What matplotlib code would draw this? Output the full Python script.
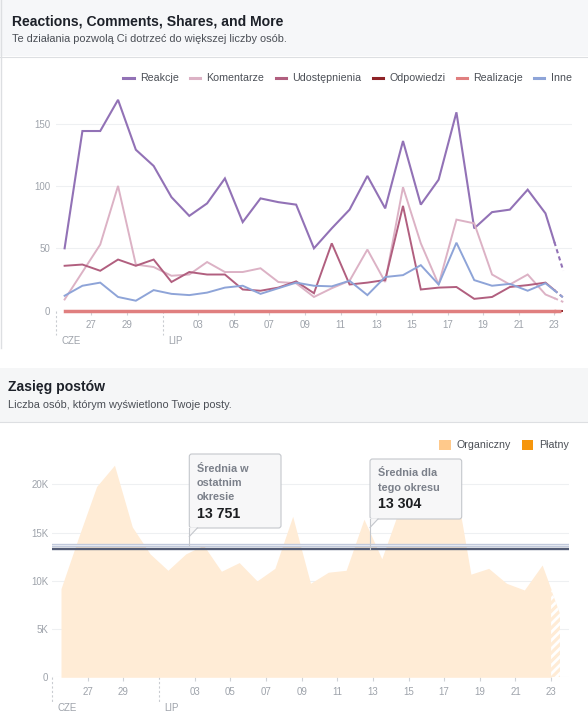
import numpy as np
import pandas as pd
import matplotlib
matplotlib.use("Agg")
import matplotlib.pyplot as plt
from matplotlib.patches import Rectangle, FancyBboxPatch, Polygon, Patch
from matplotlib.lines import Line2D
from matplotlib.transforms import IdentityTransform

plt.rcParams['font.family'] = ['Liberation Sans', 'DejaVu Sans']
plt.rcParams['hatch.linewidth'] = 2.0

W, H = 588, 715

# ---------------- data ----------------
dates = pd.date_range('2018-06-25', '2018-07-23')          # 29 days
tick_labels = ['27', '29', '03', '05', '07', '09', '11', '13', '15', '17', '19', '21', '23']
month_labels = ['CZE', 'LIP']

series_names = ['Reakcje', 'Komentarze', 'Udostępnienia', 'Odpowiedzi', 'Realizacje', 'Inne']
reakcje = [50, 144, 144, 169, 129, 116, 91, 76, 86, 106, 71, 90, 87, 85, 50, 66, 81, 108,
           82, 136, 85, 105, 159, 66, 79, 81, 97, 78, 32]
komentarze = [9, 31, 53, 100, 37, 35, 28, 29, 39, 31, 31, 34, 23, 22, 11, 18, 24, 49,
              23, 99, 54, 21, 73, 70, 29, 21, 29, 13, 7]
udostepnienia = [36, 37, 32, 41, 36, 41, 23, 31, 29, 29, 17, 16, 18.5, 23.5, 14, 54, 21, 22.5,
                 24.6, 84, 17, 18.5, 19, 9.5, 11, 19, 20.5, 22.5, 10.5]
odpowiedzi = [0] * 29
realizacje = [0] * 29
inne = [12, 20, 22.5, 11, 8, 16.5, 13.5, 12.5, 14.5, 18.5, 20, 13.5, 18, 22.5, 20, 19.5, 24, 12.5,
        27, 28.5, 36.5, 21, 54.5, 24.5, 20, 21.5, 16, 22, 10.5]
top_yticks = [0, 50, 100, 150]

reach_names = ['Organiczny', 'Płatny']
organiczny = [9200, 14600, 19800, 22000, 15600, 12800, 11100, 12800, 13700, 11000, 11900, 10000,
              11300, 16700, 9750, 10900, 11100, 16400, 12300, 17500, 17000, 17800, 21500, 10700,
              11300, 9750, 9060, 11650, 6600]
platny = [0] * 29
avg_prev = 13751
avg_cur = 13304
reach_yticks = [0, 5000, 10000, 15000, 20000]
reach_ytick_labels = ['0', '5K', '10K', '15K', '20K']

# ---------------- helpers ----------------
fig = plt.figure(figsize=(W / 100, H / 100), dpi=100)
fig.patch.set_facecolor('white')


def fbox(l, t, r, b):
    return [l / W, 1 - b / H, (r - l) / W, (b - t) / H]


def frect(l, t, r, b, **kw):
    fig.add_artist(Rectangle((l / W, 1 - b / H), (r - l) / W, (b - t) / H,
                             transform=fig.transFigure, **kw))


def fline(x0, y0, x1, y1, **kw):
    fig.add_artist(Line2D([x0 / W, x1 / W], [1 - y0 / H, 1 - y1 / H], transform=fig.transFigure, **kw))


def ftext(x, y, s, **kw):
    fig.text(x / W, 1 - y / H, s, **kw)


x = np.arange(len(dates)) + 0.5
tick_days = [i for i, d in enumerate(dates) if d.day % 2 == 1 and d.day != 1 and i != 0]
month_days = [0] + [i for i, d in enumerate(dates) if d.day == 1]

TICKC = '#9ea3ab'
GRIDC = '#eef0f2'
TS = 7.0

# ---------------- panel backgrounds ----------------
frect(0, 0, 588, 56, fc='#f6f7f9', ec='none', zorder=0)
fline(0, 56.5, 588, 56.5, color='#dddfe2', lw=0.8, zorder=1)
fline(0.5, 0, 0.5, 348, color='#dddfe2', lw=1.0, zorder=1)
frect(0, 368, 588, 422, fc='#f5f6f7', ec='none', zorder=0)
fline(0, 422, 588, 422, color='#dddfe2', lw=0.8, zorder=1)

ftext(12.3, 25.3, 'Reactions, Comments, Shares, and More', fontsize=10.1, fontweight='bold',
      color='#1d2129', va='baseline')
ftext(12.3, 41.5, 'Te działania pozwolą Ci dotrzeć do większej liczby osób.', fontsize=7.9,
      color='#4b4f56', va='baseline')
ftext(8.3, 391, 'Zasięg postów', fontsize=10.1, fontweight='bold', color='#1d2129', va='baseline')
ftext(8.3, 407.5, 'Liczba osób, którym wyświetlono Twoje posty.', fontsize=7.9,
      color='#4b4f56', va='baseline')


def style_axis(ax, yticks, ylabels, ylabpad, xpad):
    for s in ax.spines.values():
        s.set_visible(False)
    ax.set_facecolor('none')
    ax.set_xlim(0, 29)
    ax.set_xticks(tick_days)
    ax.set_xticklabels(tick_labels)
    ax.set_yticks(yticks)
    ax.set_yticklabels(ylabels)
    ax.tick_params(axis='x', length=3.2, width=0.8, color='#cfd2d7', labelsize=TS,
                   labelcolor=TICKC, pad=xpad)
    ax.tick_params(axis='y', length=0, labelsize=TS, labelcolor=TICKC, pad=ylabpad)
    ax.yaxis.grid(True, color=GRIDC, lw=0.8)
    ax.set_axisbelow(True)
    for m, lab in zip(month_days, month_labels):
        ax.plot([m, m], [0, -0.106], transform=ax.get_xaxis_transform(), color='#c9ccd1',
                ls=(0, (2, 2)), lw=0.8, clip_on=False)
        ax.annotate(lab, xy=(m, 0), xycoords=ax.get_xaxis_transform(), xytext=(4, -21.8),
                    textcoords='offset points', ha='left', va='center', fontsize=TS, color=TICKC)


# ---------------- top chart ----------------
ax1 = fig.add_axes(fbox(55.7, 86.1, 572.2, 310.7))
ax1.set_ylim(0, 180)
style_axis(ax1, top_yticks, [str(v) for v in top_yticks], 4.0, 3.8)

colors = ['#9272b6', '#dcb2c5', '#b15f7f', '#8e2327', '#e07f7f', '#8ea4d8']
widths = [1.5, 1.4, 1.4, 1.4, 2.5, 1.4]
vals_all = [reakcje, komentarze, udostepnienia, odpowiedzi, realizacje, inne]
for k, (vals, c, lw) in enumerate(zip(vals_all, colors, widths)):
    v = np.asarray(vals, float)
    xm = (x[-2] + x[-1]) / 2
    vm = (v[-2] + v[-1]) / 2
    ax1.plot(np.append(x[:-1], xm), np.append(v[:-1], vm), color=c, lw=lw, zorder=3 + k,
             clip_on=False, solid_joinstyle='miter')
    ax1.plot([xm, x[-1]], [vm, v[-1]], color=c, lw=lw, ls=(0, (2, 1.6)), zorder=3 + k,
             clip_on=False)

handles = [Line2D([], [], color=c, lw=2.2) for c in colors]
fig.legend(handles, series_names, loc='center right', bbox_to_anchor=(571.7 / W, 1 - 78.3 / H),
           ncol=6, frameon=False, fontsize=7.7, handlelength=0.95, handletextpad=0.6,
           columnspacing=1.05, borderpad=0, borderaxespad=0, labelcolor='#4b4f56')

# ---------------- bottom chart ----------------
ax2 = fig.add_axes(fbox(52.1, 441.1, 568.9, 677.3))
ax2.set_ylim(0, 24500)
style_axis(ax2, reach_yticks, reach_ytick_labels, 2.7, 3.8)

ORG = '#ffc98b'
PAID = '#f6960c'
AREA = '#ffecd6'
v = np.asarray(organiczny, float)
xm = (x[-2] + x[-1]) / 2
vm = (v[-2] + v[-1]) / 2
ax2.fill_between(np.append(x[:-1], xm), np.append(v[:-1], vm), 0, color=AREA, lw=0, zorder=2)
ax2.fill_between([xm, x[-1]], [vm, v[-1]], 0, facecolor=AREA, edgecolor='white', hatch='////',
                 lw=0, zorder=2)
ax2.fill_between(x, platny, 0, color=PAID, lw=0, zorder=2)

ax2.axhline(avg_prev, color='#bfc8db', lw=2.4, zorder=4)
ax2.axhline(avg_prev, color='#e4e8f0', lw=0.8, zorder=4)
ax2.axhline(avg_cur, color='#535c75', lw=1.7, zorder=5)

fig.legend([Patch(fc=ORG, ec='none'), Patch(fc=PAID, ec='none')], reach_names,
           loc='center right', bbox_to_anchor=(569 / W, 1 - 445 / H), ncol=2, frameon=False,
           fontsize=7.7, handlelength=1.05, handleheight=1.05, handletextpad=0.55,
           columnspacing=1.05, borderpad=0, borderaxespad=0, labelcolor='#4b4f56')


def tooltip(avg, l, t, r, b, lines, line_ys, number, num_y):
    BOXC = '#f7f7f8'
    EDGE = '#c4c7cc'
    fig.add_artist(FancyBboxPatch((l, H - b), r - l, b - t,
                                  boxstyle='round,pad=0,rounding_size=2.5',
                                  transform=IdentityTransform(), fc=BOXC, ec=EDGE, lw=0.8,
                                  zorder=20))
    y_avg = ax2.transData.transform((0, avg))[1]
    fig.add_artist(Polygon([(l, H - b + 0.6), (l + 8, H - b + 0.6), (l, H - b - 8.5)],
                           closed=True, transform=IdentityTransform(), fc=BOXC, ec='none',
                           zorder=21))
    fig.add_artist(Line2D([l, l], [H - b + 0.4, y_avg], transform=IdentityTransform(),
                          color=EDGE, lw=0.8, zorder=22))
    fig.add_artist(Line2D([l + 8, l], [H - b, H - b - 8.5], transform=IdentityTransform(),
                          color=EDGE, lw=0.8, zorder=22))
    for s, yy in zip(lines, line_ys):
        t_ = fig.text((l + 7.5) / W, 1 - yy / H, s, fontsize=7.8, fontweight='bold',
                      color='#7b808a', va='center', ha='left')
        t_.set_zorder(23)
    t_ = fig.text((l + 7.5) / W, 1 - num_y / H, number, fontsize=10.2, fontweight='bold',
                  color='#1c1e21', va='center', ha='left')
    t_.set_zorder(23)


tooltip(avg_prev, 189.3, 454, 281, 528, ['Średnia w', 'ostatnim', 'okresie'],
        [469, 483, 496.5], '{:,}'.format(avg_prev).replace(',', ' '), 513.5)
tooltip(avg_cur, 370, 459, 461.7, 519, ['Średnia dla', 'tego okresu'],
        [473.3, 487.7], '{:,}'.format(avg_cur).replace(',', ' '), 504)

fig.savefig('out.png', dpi=100)
